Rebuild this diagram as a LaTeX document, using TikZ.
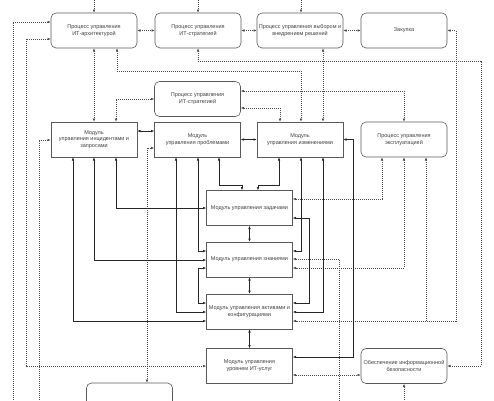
\documentclass[tikz,border=0pt]{standalone}
\usepackage{fontspec}
\setmainfont{Liberation Sans}
\usetikzlibrary{arrows.meta}
\begin{document}
\begin{tikzpicture}[x=1pt,y=-1pt,
  >={Latex[length=3.2pt,width=2.6pt]},
  every node/.style={font=\fontsize{5.5}{6.7}\selectfont, text=black!75},
  basebox/.style={draw=black!65, line width=0.6pt, minimum width=86pt, minimum height=35pt, align=center, inner sep=1pt, fill=white},
  proc/.style={basebox, rounded corners=5pt},
  modbox/.style={basebox},
  conn/.style={draw=black!85, line width=0.55pt},
  dconn/.style={draw=black!70, line width=0.55pt, dash pattern=on 1pt off 1pt}
]
\path[use as bounding box, clip] (0,0) rectangle (494,400);

% top row
\node[proc] (B1) at (94,30.5) {Процесс управления\\ИТ-архитектурой};
\node[proc] (B2) at (198,30.5) {Процесс управления\\ИТ-стратегией};
\node[proc] (B3) at (300,30.5) {Процесс управления выбором и\\внедрением решений};
\node[proc] (B4) at (404,30.5) {Закупка};
% second strategy
\node[proc] (S2) at (197.5,99) {Процесс управления\\ИТ-стратегией};
% modules row
\node[modbox] (M1) at (94,139.5) {Модуль\\управления инцидентами и\\запросами};
\node[modbox] (M2) at (197.5,139.5) {Модуль\\управления проблемами};
\node[modbox] (M3) at (300,139.5) {Модуль\\управления изменениями};
\node[proc] (P) at (404,139.5) {Процесс управления\\эксплуатацией};
% middle column
\node[modbox] (T) at (249.5,208) {Модуль управления задачами};
\node[modbox] (K) at (249.5,259.5) {Модуль управления знаниями};
\node[modbox] (A) at (249.5,311.5) {Модуль управления активами и\\конфигурациями};
\node[modbox] (S) at (249.5,366) {Модуль управления\\уровнем ИТ-услуг};
\node[proc] (IS) at (404,366) {Обеспечение информационной\\безопасности};
\node[proc] (BB) at (129.5,400.5) {};

% free ends
\coordinate (t1) at (94,-2);
\coordinate (t2) at (198,-2);
\coordinate (t3) at (301,-2);
\coordinate (e1) at (13,402);
\coordinate (e2) at (39,402);
\coordinate (e3) at (339,402);
\coordinate (e4) at (404,402);

% dotted connectors
\draw[dconn,->] (t1) -- (B1.north);
\draw[dconn,->] (t2) -- (B2.north);
\draw[dconn,->] (t3) -- (B3.north -| 301,0);
\draw[dconn,<->] (B1.east) -- (B2.west);
\draw[dconn,<->] (B2.east) -- (B3.west);
\draw[dconn,<->] (B3.east) -- (B4.west);
\draw[dconn,<->] (B4.east) -| (456,321) -- (A.east |- 0,321);
\draw[dconn,->] (426,321) -- (P.south -| 426,0);
\draw[dconn,<->] (B1.south -| 117,0) |- (301,71) -- (M3.north -| 301,0);
\draw[dconn,<->] (B2.south) |- (481,61) |- (IS.east);
\draw[dconn,<->] (B3.south -| 323,0) -- (M3.north -| 323,0);
\draw[dconn,<->] (B1.south) -- (M1.north);
\draw[dconn,<->] (M1.north -| 116,0) |- (S2.west);
\draw[dconn,<->] (S2.east |- 0,91) -| (P.north);
\draw[dconn,<->] (S2.east |- 0,108) -| (M3.north -| 280,0);
\draw[dconn,<-] (B1.west |- 0,22) -| (e1);
\draw[dconn,<->] (B1.west |- 0,39) -| (26,366) -- (S.west);
\draw[dconn,<-] (M1.west |- 0,140) -| (e2);
\draw[dconn,<->] (M2.west |- 0,148) -| (BB.north -| 147,0);
\draw[dconn,<->] (P.south -| 382,0) |- (T.east |- 0,199);
\draw[dconn,<->] (P.south) |- (K.east |- 0,268);
\draw[dconn,<-] (K.east |- 0,259) -| (e3);
\draw[dconn,<->] (S.east |- 0,375) -- (IS.west |- 0,375);
\draw[dconn,->] (e4) -- (IS.south);

% solid connectors
\draw[conn,<->] (M1.east |- 0,131) -- (M2.west |- 0,131);
\draw[conn,<->] (M2.east) -- (M3.west);
\draw[conn,<->] (M1.south -| 73,0) |- (A.west |- 0,321);
\draw[conn,<->] (M1.south) |- (K.west |- 0,260);
\draw[conn,<->] (M1.south -| 116,0) |- (T.west);
\draw[conn,<->] (M2.south -| 176,0) |- (A.west |- 0,312);
\draw[conn,<->] (M2.south -| 198,0) |- (K.west |- 0,251);
\draw[conn,<->] (M2.south -| 219,0) |- (242,185) -- (T.north -| 242,0);
\draw[conn,<->] (M3.south -| 279,0) |- (258,185) -- (T.north -| 258,0);
\draw[conn,<->] (M3.south -| 301,0) |- (K.east |- 0,251);
\draw[conn,<->] (M3.south -| 323,0) |- (A.east |- 0,312);
\draw[conn,<->] (M3.east) -| (353,357) -- (S.east |- 0,357);
\draw[conn,<->] (T.east |- 0,218) -| (309,303) -- (A.east |- 0,303);
\draw[conn,<->] (K.west |- 0,268) -| (198,303) -- (A.west |- 0,303);
\draw[conn,<->] (T.south) -- (K.north);
\draw[conn,<->] (K.south) -- (A.north);
\draw[conn,<->] (A.south) -- (S.north);
\end{tikzpicture}
\end{document}
